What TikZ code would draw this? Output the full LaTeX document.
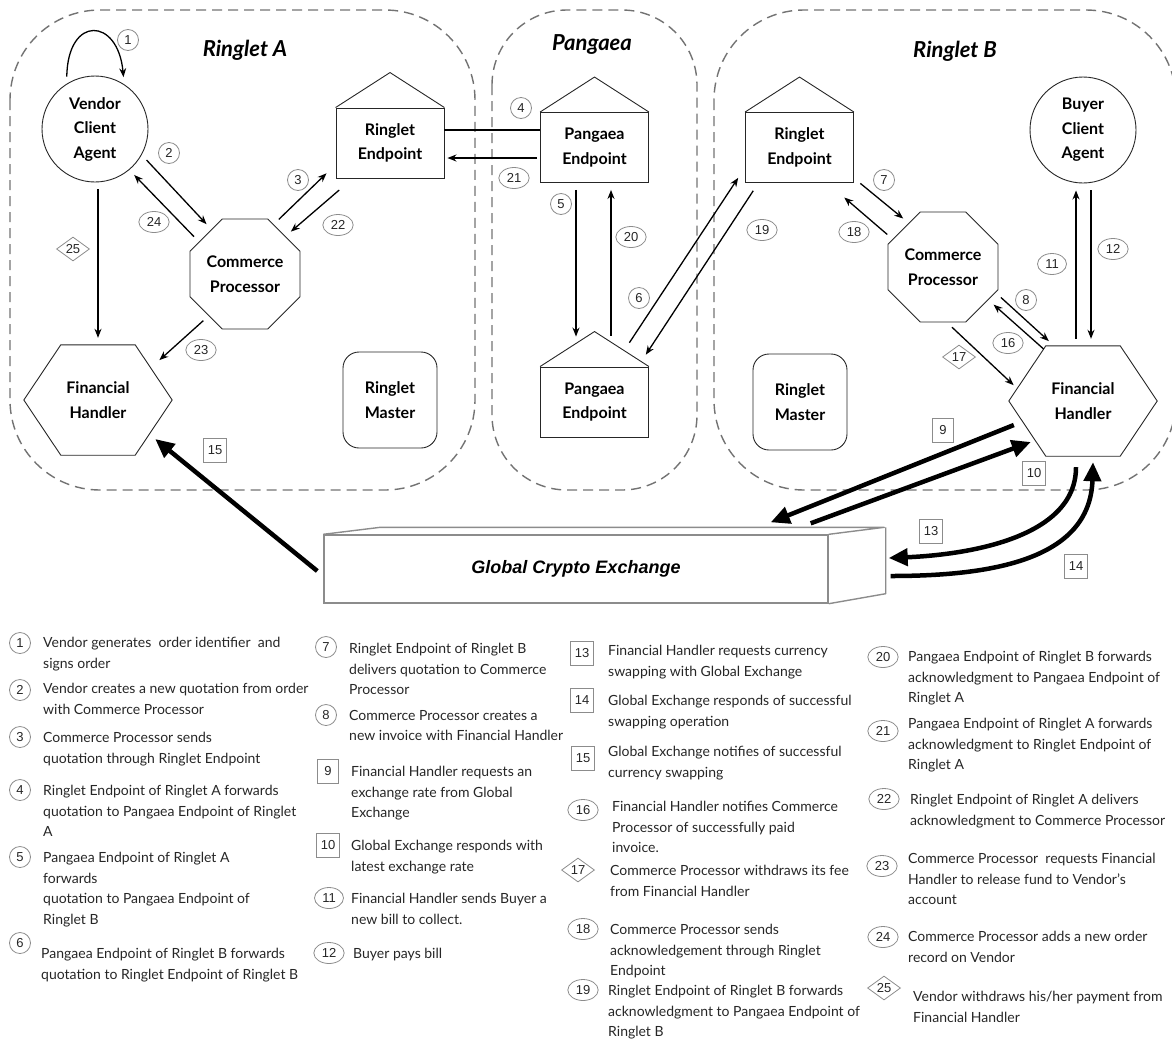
\documentclass[tikz,border=0pt]{standalone}
\usepackage{fontspec}
\setmainfont{Lato}
\newfontfamily\numfont{Liberation Sans}
\usepackage{tikz}
\usetikzlibrary{shapes.geometric, arrows.meta, positioning, calc}
\tikzstyle{arrow}=[-{Stealth[length=9pt,width=7pt]}, line width=1.3pt, shorten <=7pt, shorten >=7pt]
\tikzstyle{bigarrow}=[-{Triangle[length=19pt,width=17pt]}, line width=4.5pt]
\newcommand{\nodetxt}{\bfseries\fontsize{16}{24.5}\selectfont}
\newcommand{\legfont}{\fontsize{14}{20.5}\selectfont}
\newcommand{\roof}[1]{\draw[shp] (#1.north west) -- ([yshift=35pt]#1.north) -- (#1.north east);}
\newcommand{\hexline}[1]{\draw[shp] (#1.west) -- ([xshift=37pt]#1.north west)
  -- ([xshift=-37pt]#1.north east) -- (#1.east) -- ([xshift=-37pt]#1.south east)
  -- ([xshift=37pt]#1.south west) -- cycle;}

\begin{document}
\begin{tikzpicture}[x=1pt, y=-1pt,
  shp/.style={draw=black!85, line width=0.9pt},
  region/.style={draw=black!55, line width=1.4pt, dash pattern=on 10pt off 6pt},
  title/.style={font=\bfseries\itshape\fontsize{22}{22}\selectfont},
  agent/.style={shp, circle, minimum size=106pt, inner sep=0pt, align=center, font=\nodetxt},
  proc/.style={shp, regular polygon, regular polygon sides=8, minimum size=119pt,
               inner sep=0pt, align=center, font=\nodetxt},
  endpt/.style={shp, rectangle, minimum width=108pt, minimum height=70pt, align=center, font=\nodetxt},
  fin/.style={rectangle, minimum width=148pt, minimum height=110pt, align=center, font=\nodetxt},
  master/.style={shp, rounded corners=16pt, minimum width=94pt, minimum height=96pt,
                 align=center, font=\nodetxt},
  exch/.style={draw=black!45, line width=1.4pt, minimum width=504pt, minimum height=68pt,
               font=\numfont\bfseries\itshape\fontsize{18}{18}\selectfont},
  exchline/.style={draw=black!45, line width=1.4pt, line join=round},
  num/.style={draw=black!45, line width=0.8pt, font=\numfont\fontsize{13}{13}\selectfont, text=black!85},
  circ/.style={num, ellipse, inner xsep=3.5pt, inner ysep=1pt, minimum width=21pt, minimum height=21pt},
  sq/.style={num, rectangle, inner xsep=4pt, inner ysep=2pt, minimum width=21pt, minimum height=24pt},
  dia/.style={num, diamond, aspect=1.5, inner sep=0.5pt, minimum width=33pt, minimum height=24pt},
  legtext/.style={anchor=north west, align=left, inner sep=0pt, font=\legfont, text=black!85}
]
\useasboundingbox (0,0) rectangle (1172,1042);

% regions
\draw[region, rounded corners=90pt] (10,10) rectangle (475,490);
\draw[region, rounded corners=75pt] (492,10) rectangle (697,490);
\draw[region, rounded corners=90pt] (714,10) rectangle (1176,490);
\node[title] (tA) at (245,50) {Ringlet A};
\node[title] (tP) at (592,45) {Pangaea};
\node[title] (tB) at (955,51) {Ringlet B};

% components
\node[agent] (vca) at (95,129) {Vendor\\Client\\Agent};
\node[proc] (cpA) at (245,274) {Commerce\\Processor};
\node[endpt] (reA) at (390,143) {Ringlet\\Endpoint};
\node[fin] (fhA) at (98,400) {Financial\\Handler};
\node[master] (rmA) at (390,400) {Ringlet\\Master};
\node[endpt] (peT) at (594.5,147.5) {Pangaea\\Endpoint};
\node[endpt] (peB) at (594.5,402) {Pangaea\\Endpoint};
\node[endpt] (reB) at (799.5,147.5) {Ringlet\\Endpoint};
\node[agent] (bca) at (1083,130) {Buyer\\Client\\Agent};
\node[proc] (cpB) at (943,267) {Commerce\\Processor};
\node[fin] (fhB) at (1083,401) {Financial\\Handler};
\node[master] (rmB) at (800,402) {Ringlet\\Master};
\node[exch] (gce) at (576,569) {Global Crypto Exchange};
\roof{reA} \roof{peT} \roof{peB} \roof{reB}
\hexline{fhA} \hexline{fhB}
\draw[exchline] (gce.north west) -- ++(57,-7) -- ++(504,0) -- (gce.north east);
\draw[exchline] ([shift={(57,-7)}]gce.north east) -- ([shift={(57,-10)}]gce.south east) -- (gce.south east);

% ringlet A flows
\draw[arrow] (vca.122) .. controls +(1,-69) and +(-6,-67) .. (vca.57);
\draw[arrow] (vca.-29) -- (cpA.127);
\draw[arrow] (cpA.145) -- (vca.-50);
\draw[arrow] (vca.south -| fhA.north) -- (fhA.north);
\draw[arrow] (cpA.60) -- ([shift={(-4,-10)}]reA.south west);
\draw[arrow] ([shift={(9,7)}]reA.south west) -- (cpA.43);
\draw[arrow] (cpA.-131) -- ([shift={(-18,20)}]fhA.north east);

% pangaea flows
\draw[line width=1.3pt] ([yshift=13pt]reA.east) -- ([yshift=13pt]reA.east -| peT.west);
\draw[arrow, shorten <=3pt, shorten >=3pt] ([yshift=-15pt]reA.east -| peT.west) -- ([yshift=-15pt]reA.east);
\draw[arrow] ([xshift=-18.5pt]peT.south) -- ([xshift=-18.5pt,yshift=23pt]peB.north);
\draw[arrow] ([xshift=16.5pt,yshift=24pt]peB.north) -- ([xshift=16.5pt]peT.south);
\draw[arrow] ([shift={(31,-18)}]peB.north) -- ([shift={(-3,-11)}]reB.south west);
\draw[arrow] ([shift={(12,2)}]reB.south west) -- ([shift={(-7,-6)}]peB.north east);

% ringlet B flows
\draw[arrow] ([shift={(1,-4)}]reB.south east) -- (cpB.128);
\draw[arrow] (cpB.151) -- ([shift={(-15,10)}]reB.south east);
\draw[arrow] (cpB.-26) -- ([xshift=-29pt]fhB.north);
\draw[arrow] ([shift={(-34,8)}]fhB.north) -- (cpB.-36);
\draw[arrow] (cpB.-86) -- ([shift={(10,-11)}]fhB.west);
\draw[arrow] ([xshift=-7pt]fhB.north) -- ([xshift=-7pt]fhB.north |- bca.south);
\draw[arrow] ([xshift=8pt]fhB.north |- bca.south) -- ([xshift=8pt]fhB.north);

% exchange flows
\draw[bigarrow] ([shift={(5,24)}]fhB.west) -- ([shift={(-58,-12)}]gce.north east);
\draw[bigarrow] ([shift={(-18,-11)}]gce.north east) -- ([shift={(22,41)}]fhB.west);
\draw[bigarrow] ([shift={(-7,11)}]fhB.south) .. controls +(0,73) and +(72,-3) .. ([shift={(60,-11)}]gce.east);
\draw[bigarrow] ([shift={(62,7)}]gce.east) .. controls +(100,0) and +(-3,98) .. ([shift={(10,6)}]fhB.south);
\draw[bigarrow] ([shift={(-6,2)}]gce.west) -- ([shift={(-17,39)}]fhA.east);

% step numbers
\node[circ] (n1) at (128,40) {1};
\node[circ] (n2) at (169,153) {2};
\node[circ] (n3) at (298,180) {3};
\node[circ] (n4) at (521,108) {4};
\node[circ] (n5) at (561,204) {5};
\node[circ] (n6) at (639,298) {6};
\node[circ] (n7) at (884,180) {7};
\node[circ] (n8) at (1026,300) {8};
\node[sq] (n9) at (943,430) {9};
\node[sq] (n10) at (1034,473) {10};
\node[circ] (n11) at (1052,264) {11};
\node[circ] (n12) at (1113,249) {12};
\node[sq] (n13) at (931,531) {13};
\node[sq] (n14) at (1076,566) {14};
\node[sq] (n15) at (215,450) {15};
\node[circ] (n16) at (1008,343) {16};
\node[dia] (n17) at (959,357) {17};
\node[circ] (n18) at (854,232) {18};
\node[circ] (n19) at (762,230) {19};
\node[circ] (n20) at (631,237) {20};
\node[circ] (n21) at (514,178) {21};
\node[circ] (n22) at (338,225) {22};
\node[circ] (n23) at (201,350) {23};
\node[circ] (n24) at (154,222) {24};
\node[dia] (n25) at (73,249) {25};

% legend
\node[circ] (l1) at (20,643) {1};
\node[legtext] (t1) at (43,637) {Vendor generates~ order identifier~ and\\signs order};
\node[circ] (l2) at (20,690) {2};
\node[legtext] (t2) at (43,683) {Vendor creates a new quotation from order\\with Commerce Processor};
\node[circ] (l3) at (20,737) {3};
\node[legtext] (t3) at (43,732) {Commerce Processor sends\\quotation through Ringlet Endpoint};
\node[circ] (l4) at (20,790) {4};
\node[legtext] (t4) at (43,785) {Ringlet Endpoint of Ringlet A forwards\\quotation to Pangaea Endpoint of Ringlet\\A};
\node[circ] (l5) at (20,857) {5};
\node[legtext] (t5) at (43,852) {Pangaea Endpoint of Ringlet A\\forwards\\quotation to Pangaea Endpoint of\\Ringlet B};
\node[circ] (l6) at (20,943) {6};
\node[legtext] (t6) at (41,948) {Pangaea Endpoint of Ringlet B forwards\\quotation to Ringlet Endpoint of Ringlet B};

\node[circ] (l7) at (326,647) {7};
\node[legtext] (t7) at (349,643) {Ringlet Endpoint of Ringlet B\\delivers quotation to Commerce\\Processor};
\node[circ] (l8) at (326,715) {8};
\node[legtext] (t8) at (349,710) {Commerce Processor creates a\\new invoice with Financial Handler};
\node[sq] (l9) at (328,771) {9};
\node[legtext] (t9) at (351,766) {Financial Handler requests an\\exchange rate from Global\\Exchange};
\node[sq] (l10) at (328,845) {10};
\node[legtext] (t10) at (351,840) {Global Exchange responds with\\latest exchange rate};
\node[circ] (l11) at (329,898) {11};
\node[legtext] (t11) at (351,893) {Financial Handler sends Buyer a\\new bill to collect.};
\node[circ] (l12) at (329,953) {12};
\node[legtext] (t12) at (353,948) {Buyer pays bill};

\node[sq] (l13) at (582,653) {13};
\node[legtext] (t13) at (608,645) {Financial Handler requests currency\\swapping with Global Exchange};
\node[sq] (l14) at (582,700) {14};
\node[legtext] (t14) at (608,695) {Global Exchange responds of successful\\swapping operation};
\node[sq] (l15) at (583,758) {15};
\node[legtext] (t15) at (608,746) {Global Exchange notifies of successful\\currency swapping};
\node[circ] (l16) at (583,810) {16};
\node[legtext] (t16) at (612,801) {Financial Handler notifies Commerce\\Processor of successfully paid\\invoice.};
\node[dia] (l17) at (578,870) {17};
\node[legtext] (t17) at (610,865) {Commerce Processor withdraws its fee\\from Financial Handler};
\node[circ] (l18) at (583,929) {18};
\node[legtext] (t18) at (610,924) {Commerce Processor sends\\acknowledgement through Ringlet\\Endpoint};
\node[circ] (l19) at (583,990) {19};
\node[legtext] (t19) at (608,985) {Ringlet Endpoint of Ringlet B forwards\\acknowledgment to Pangaea Endpoint of\\Ringlet B};

\node[circ] (l20) at (883,657) {20};
\node[legtext] (t20) at (908,651) {Pangaea Endpoint of Ringlet B forwards\\acknowledgment to Pangaea Endpoint of\\Ringlet A};
\node[circ] (l21) at (883,731) {21};
\node[legtext] (t21) at (908,718) {Pangaea Endpoint of Ringlet A forwards\\acknowledgment to Ringlet Endpoint of\\Ringlet A};
\node[circ] (l22) at (884,799) {22};
\node[legtext] (t22) at (910,794) {Ringlet Endpoint of Ringlet A delivers\\acknowledgment to Commerce Processor};
\node[circ] (l23) at (882,866) {23};
\node[legtext] (t23) at (908,853) {Commerce Processor~ requests Financial\\Handler to release fund to Vendor’s\\account};
\node[circ] (l24) at (883,937) {24};
\node[legtext] (t24) at (908,931) {Commerce Processor adds a new order\\record on Vendor};
\node[dia] (l25) at (884,988) {25};
\node[legtext] (t25) at (913,991) {Vendor withdraws his/her payment from\\Financial Handler};
\end{tikzpicture}
\end{document}
